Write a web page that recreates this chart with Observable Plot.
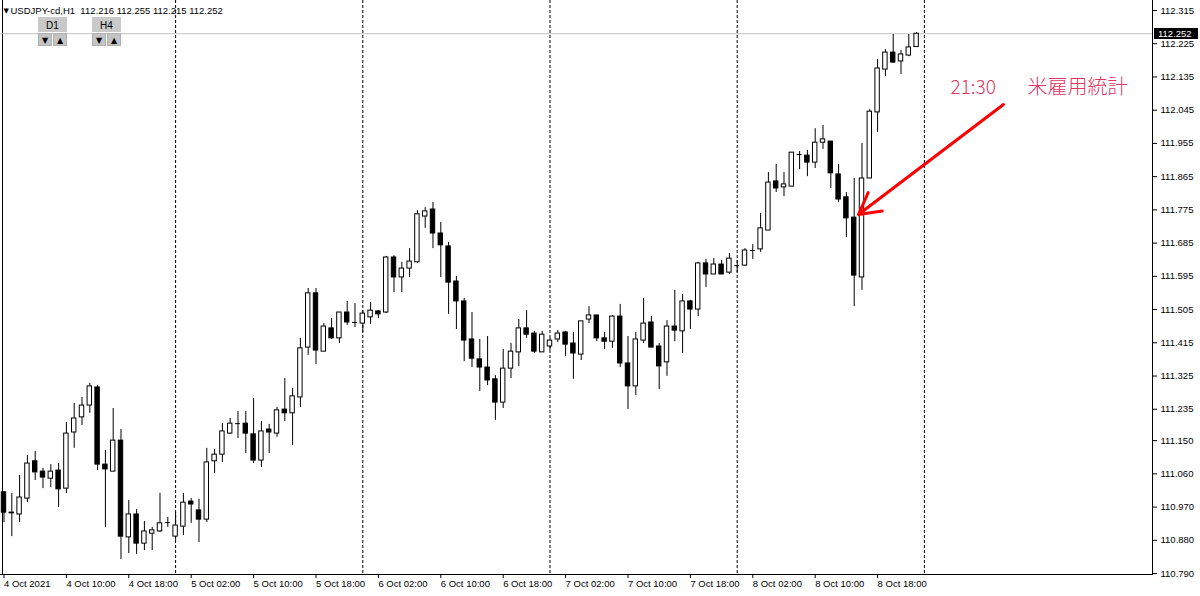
<!DOCTYPE html>
<html><head><meta charset="utf-8">
<script src="https://cdn.jsdelivr.net/npm/d3@7"></script>
<script src="https://cdn.jsdelivr.net/npm/@observablehq/plot@0.6"></script>
<style>html,body{margin:0;padding:0;background:#fff;} #chart svg{display:block}</style>
</head><body><div id="chart"></div>
<script>
// ---------- data ----------
const symbol = "USDJPY-cd,H1";
const startTime = "2021-10-04T02:00:00Z"; // first visible H1 candle

const opens = [
 111.010,110.955,110.950,110.993,111.094,111.066,111.047,111.069,111.020,111.172,111.213,111.245,
 111.294,111.085,111.066,111.150,110.888,110.950,110.871,110.898,110.904,110.928,110.890,110.917,
 110.985,110.961,110.936,111.094,111.112,111.169,111.196,111.196,111.167,111.096,111.180,111.169,
 111.234,111.224,111.267,111.402,111.549,111.391,111.454,111.427,111.497,111.470,111.467,111.484,
 111.500,111.497,111.646,111.592,111.616,111.633,111.757,111.776,111.711,111.676,111.581,111.527,
 111.424,111.370,111.348,111.316,111.253,111.345,111.389,111.454,111.440,111.389,111.405,111.424,
 111.443,111.413,111.383,111.478,111.489,111.427,111.418,111.486,111.359,111.297,111.421,111.470,
 111.405,111.362,111.459,111.446,111.527,111.505,111.630,111.600,111.627,111.605,111.624,111.624,
 111.665,111.668,111.719,111.852,111.836,111.838,111.925,111.922,111.903,111.957,111.960,111.871,
 111.809,111.754,111.592,111.860,112.039,112.155,112.201,112.177,112.193,112.216];
const highs = [
 111.012,111.007,111.056,111.110,111.121,111.075,111.085,111.088,111.199,111.251,111.267,111.305,
 111.299,111.123,111.237,111.180,110.988,110.963,110.931,110.915,111.007,110.942,110.955,111.007,
 110.993,110.991,111.129,111.126,111.196,111.210,111.229,111.229,111.264,111.202,111.194,111.240,
 111.318,111.291,111.427,111.562,111.562,111.467,111.481,111.497,111.527,111.521,111.502,111.524,
 111.502,111.649,111.651,111.633,111.670,111.773,111.781,111.795,111.741,111.687,111.595,111.535,
 111.497,111.424,111.432,111.326,111.397,111.413,111.478,111.502,111.446,111.446,111.427,111.448,
 111.446,111.443,111.473,111.513,111.489,111.443,111.489,111.519,111.432,111.443,111.535,111.486,
 111.413,111.475,111.557,111.546,111.530,111.633,111.641,111.643,111.638,111.657,111.638,111.670,
 111.681,111.765,111.876,111.898,111.876,111.930,111.933,111.936,111.995,112.004,111.960,111.898,
 111.822,111.860,111.955,112.047,112.182,112.209,112.250,112.207,112.250,112.255];
const lows = [
 110.928,110.890,110.928,110.982,111.042,111.020,111.023,110.969,111.007,111.129,111.191,111.224,
 111.069,110.915,111.066,110.828,110.844,110.842,110.852,110.852,110.901,110.915,110.880,110.893,
 110.926,110.874,110.928,111.061,111.091,111.167,111.156,111.115,111.088,111.077,111.115,111.159,
 111.202,111.137,111.240,111.381,111.356,111.391,111.424,111.413,111.462,111.456,111.443,111.465,
 111.481,111.494,111.551,111.551,111.592,111.630,111.725,111.670,111.592,111.492,111.451,111.364,
 111.348,111.283,111.299,111.205,111.237,111.318,111.351,111.427,111.386,111.389,111.394,111.416,
 111.378,111.316,111.367,111.467,111.418,111.397,111.400,111.348,111.234,111.272,111.413,111.402,
 111.288,111.324,111.418,111.386,111.451,111.486,111.565,111.600,111.600,111.600,111.605,111.622,
 111.641,111.660,111.719,111.822,111.811,111.838,111.884,111.865,111.887,111.939,111.833,111.795,
 111.700,111.513,111.557,111.860,111.985,112.136,112.172,112.142,112.190,112.215];
const closes = [
 110.955,110.953,110.996,111.088,111.064,111.050,111.066,111.018,111.169,111.210,111.245,111.297,
 111.085,111.072,111.150,110.890,110.950,110.871,110.904,110.907,110.926,110.928,110.920,110.982,
 110.977,110.936,111.091,111.112,111.175,111.196,111.196,111.169,111.096,111.175,111.172,111.232,
 111.224,111.270,111.400,111.549,111.394,111.459,111.427,111.497,111.470,111.470,111.494,111.502,
 111.492,111.646,111.592,111.616,111.635,111.763,111.771,111.711,111.679,111.578,111.527,111.421,
 111.372,111.348,111.313,111.253,111.345,111.391,111.454,111.437,111.391,111.437,111.421,111.440,
 111.410,111.386,111.473,111.489,111.427,111.418,111.486,111.359,111.297,111.424,111.467,111.402,
 111.351,111.459,111.448,111.527,111.505,111.630,111.600,111.627,111.600,111.643,111.624,111.665,
 111.665,111.725,111.849,111.833,111.844,111.930,111.925,111.903,111.957,111.966,111.874,111.803,
 111.752,111.597,111.860,112.041,112.158,112.201,112.174,112.196,112.215,112.252];

const yTicks = [112.315,112.225,112.135,112.045,111.955,111.865,111.775,111.685,111.595,
                111.505,111.415,111.325,111.235,111.150,111.060,110.970,110.880,110.790];
const xTicks = ["2021-10-04T02:00:00Z","2021-10-04T10:00:00Z","2021-10-04T18:00:00Z",
                "2021-10-05T02:00:00Z","2021-10-05T10:00:00Z","2021-10-05T18:00:00Z",
                "2021-10-06T02:00:00Z","2021-10-06T10:00:00Z","2021-10-06T18:00:00Z",
                "2021-10-07T02:00:00Z","2021-10-07T10:00:00Z","2021-10-07T18:00:00Z",
                "2021-10-08T02:00:00Z","2021-10-08T10:00:00Z","2021-10-08T18:00:00Z"];
const xTickLabels = ["4 Oct 2021","4 Oct 10:00","4 Oct 18:00","5 Oct 02:00","5 Oct 10:00","5 Oct 18:00",
                     "6 Oct 02:00","6 Oct 10:00","6 Oct 18:00","7 Oct 02:00","7 Oct 10:00","7 Oct 18:00",
                     "8 Oct 02:00","8 Oct 10:00","8 Oct 18:00"];
const daySeparators = ["2021-10-05T00:00:00Z","2021-10-06T00:00:00Z","2021-10-07T00:00:00Z",
                       "2021-10-08T00:00:00Z","2021-10-09T00:00:00Z"];
const xDomain = ["2021-10-04T01:33:05Z","2021-10-10T05:14:38Z"];
const yDomain = [110.7847, 112.3421];
const periodButtons = ["D1","H4"];

// annotation (NFP release)
const noteTime = "21:30";
const noteLabel = "米雇用統計";
const noteTimeAt = {t: "2021-10-09T03:21:00Z", p: 112.1065};
const noteLabelAt = {t: "2021-10-09T13:13:00Z", p: 112.1065};
const arrowFrom = {t: "2021-10-09T10:08:00Z", p: 112.0604};
const arrowTo = {t: "2021-10-08T15:33:00Z", p: 111.7625};

// ---------- build ----------
const t0 = new Date(startTime);
const candles = opens.map((o, i) => ({
  t: d3.utcHour.offset(t0, i), o, h: highs[i], l: lows[i], c: closes[i]
}));
const bodies = candles.filter(d => Math.abs(d.c - d.o) >= 0.0015);
const dojis = candles.filter(d => Math.abs(d.c - d.o) < 0.0015);
const tickDates = xTicks.map(s => new Date(s));
const labelMap = new Map(tickDates.map((d, i) => [+d, xTickLabels[i]]));
const last = candles[candles.length - 1];
const headerText = `${symbol}  ${last.o.toFixed(3)} ${last.h.toFixed(3)} ${last.l.toFixed(3)} ${last.c.toFixed(3)}`;
const FONT = "'Liberation Sans', Arial, sans-serif";

function priceTag(index, scales, values, dims) {
  const g = d3.create("svg:g");
  const y = Math.round(scales.y(last.c));
  const x0 = dims.width - dims.marginRight + 2;
  g.append("rect").attr("x", x0).attr("y", y - 5).attr("width", 44).attr("height", 11).attr("fill", "#000");
  g.append("text").attr("x", x0 + 4).attr("y", y + 0.5).attr("dy", "0.35em").attr("text-anchor", "start")
    .attr("fill", "#fff").attr("font-family", FONT).attr("font-size", 9.5).text(last.c.toFixed(3));
  return g.node();
}

function buttons(index, scales, values, dims) {
  const g = d3.create("svg:g");
  periodButtons.forEach((label, k) => {
    const x0 = dims.marginLeft + 38 + k * 54;
    g.append("rect").attr("x", x0).attr("y", 17).attr("width", 29).attr("height", 15).attr("fill", "#c9c9c9");
    g.append("text").attr("x", x0 + 14.5).attr("y", 25).attr("dy", "0.35em").attr("text-anchor", "middle")
      .attr("font-family", FONT).attr("font-size", 10).attr("fill", "#000").text(label);
    ["▼", "▲"].forEach((s, j) => {
      const bx = x0 + j * 15;
      g.append("rect").attr("x", bx + 0.5).attr("y", 33.5).attr("width", 13).attr("height", 12)
        .attr("fill", "#c4c4c4").attr("stroke", "#b0b0b0");
      g.append("text").attr("x", bx + 7).attr("y", 40).attr("dy", "0.35em").attr("text-anchor", "middle")
        .attr("font-family", "'DejaVu Sans', sans-serif").attr("font-size", 8).attr("fill", "#000").text(s);
    });
  });
  return g.node();
}

const chart = Plot.plot({
  width: 1200, height: 596,
  marginLeft: 0, marginRight: 48, marginTop: 0, marginBottom: 21,
  x: {type: "utc", domain: xDomain.map(s => new Date(s))},
  y: {domain: yDomain},
  style: {fontFamily: FONT, fontSize: "9.5px", background: "#fff", color: "#000", overflow: "visible"},
  marks: [
    // frame lines
    Plot.ruleX([new Date(xDomain[0])], {stroke: "#000", dx: 2}),
    Plot.ruleX([new Date(xDomain[1])], {stroke: "#000"}),
    Plot.ruleY([yDomain[0]], {stroke: "#000", dy: -1}),
    // day separators
    Plot.ruleX(daySeparators.map(s => new Date(s)), {stroke: "#000", strokeDasharray: "3,2"}),
    // current price line
    Plot.ruleY([last.c], {stroke: "#c0c0c0"}),
    // candles
    Plot.ruleX(candles, {x: "t", y1: "l", y2: "h", stroke: "#000"}),
    Plot.rect(bodies, {
      x1: d => d3.utcMinute.offset(d.t, -17), x2: d => d3.utcMinute.offset(d.t, 17),
      y1: "o", y2: "c", fill: d => d.c > d.o ? "#fff" : "#000", stroke: "#000", strokeWidth: 1
    }),
    Plot.ruleY(dojis, {
      y: "o", x1: d => d3.utcMinute.offset(d.t, -19), x2: d => d3.utcMinute.offset(d.t, 19), stroke: "#000"
    }),
    // axes
    Plot.axisY(yTicks, {anchor: "right", tickSize: 4, tickPadding: 4, tickFormat: d => d.toFixed(3),
      fontSize: 9.5, fontFamily: FONT, fill: "#000", stroke: "#000"}),
    Plot.axisX(tickDates, {anchor: "bottom", tickSize: 4, tickPadding: 2, textAnchor: "start",
      tickFormat: d => labelMap.get(+d), fontSize: 9.5, fontFamily: FONT, fill: "#000", stroke: "#000", dy: -1}),
    // header
    Plot.text(["▼"], {frameAnchor: "top-left", dx: 3, dy: 8, lineAnchor: "top", fontSize: 7,
      fontFamily: "'DejaVu Sans', sans-serif", fill: "#000"}),
    Plot.text([headerText], {frameAnchor: "top-left", dx: 10, dy: 7, lineAnchor: "top", fontSize: 9.5,
      fontFamily: FONT, fill: "#000", textAnchor: "start"}),
    buttons,
    priceTag,
    // annotation
    Plot.arrow([{x1: new Date(arrowFrom.t), y1: arrowFrom.p, x2: new Date(arrowTo.t), y2: arrowTo.p}], {
      x1: "x1", y1: "y1", x2: "x2", y2: "y2", stroke: "#ff0000", strokeWidth: 3,
      headAngle: 58, headLength: 12, strokeLinecap: "round"
    }),
    Plot.text([{t: new Date(noteTimeAt.t), p: noteTimeAt.p, s: noteTime}], {
      x: "t", y: "p", text: "s", textAnchor: "start", fill: "#e0355f", fontSize: 19,
      fontFamily: "'Noto Sans CJK JP', sans-serif", fontWeight: 300
    }),
    Plot.text([{t: new Date(noteLabelAt.t), p: noteLabelAt.p, s: noteLabel}], {
      x: "t", y: "p", text: "s", textAnchor: "start", fill: "#e0355f", fontSize: 20,
      fontFamily: "'Noto Sans CJK JP', sans-serif", fontWeight: 300
    })
  ]
});
document.getElementById("chart").appendChild(chart);
</script>
</body></html>
